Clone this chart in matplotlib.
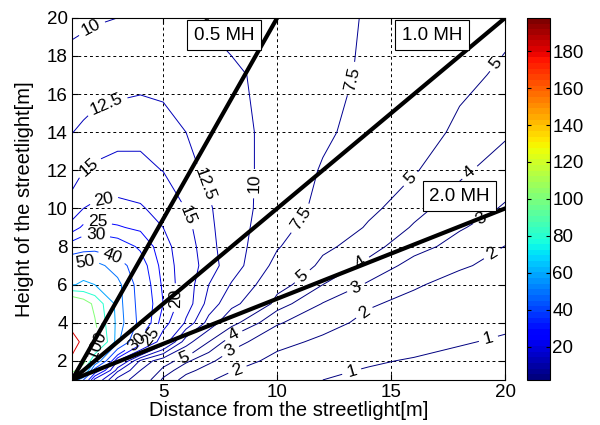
import numpy as np
import matplotlib
matplotlib.use('Agg')
import matplotlib.pyplot as plt
from matplotlib import cm, colors

plt.rcParams['font.family'] = ['Liberation Sans', 'DejaVu Sans']

# grid of the map: distance from the pole [m] and pole height [m]
dist_m = [1, 1.5, 2, 3, 4, 5, 6, 7, 8, 10, 12, 14, 16, 18, 20]
height_m = [1, 1.5, 2, 3, 4, 5, 6, 7, 8, 9, 10, 12, 14, 17, 20]

# values, one row per height
lux = [
    [60, 40, 18, 9.0, 6.0, 3.8, 2.6, 2.1, 1.65, 1.25, 1.0, 0.87, 0.76, 0.66, 0.58],
    [110, 80, 35, 13, 7.5, 4.6, 3.3, 2.6, 2.05, 1.45, 1.1, 0.96, 0.85, 0.74, 0.65],
    [172, 110, 60, 20, 9.5, 5.8, 4.2, 3.2, 2.5, 1.7, 1.2, 1.07, 0.95, 0.83, 0.72],
    [198, 170, 115, 52, 28, 17, 8.5, 5.0, 3.4, 2.3, 1.8, 1.45, 1.22, 1.05, 0.92],
    [165, 150, 102, 55, 37, 22, 14.5, 9.0, 5.4, 3.1, 2.35, 1.75, 1.5, 1.3, 1.12],
    [125, 112, 95, 54, 36, 25, 16.5, 11.5, 8.2, 4.5, 2.95, 2.1, 1.75, 1.5, 1.3],
    [59, 62, 60, 53, 35, 24, 16.5, 12.5, 9.8, 5.5, 4.0, 2.85, 2.1, 1.7, 1.5],
    [50, 53, 54, 45, 33, 23, 16.8, 13.6, 11.2, 6.7, 4.65, 3.75, 2.6, 2.1, 1.75],
    [33, 35, 35.5, 33.5, 29, 22, 16.5, 13.2, 11.2, 7.7, 5.3, 4.35, 3.4, 2.6, 1.98],
    [22.5, 26, 27, 25.5, 24, 20, 15.8, 13.0, 11.1, 8.4, 6.1, 4.85, 3.9, 3.1, 2.45],
    [16.0, 20.0, 21.0, 21.6, 20.6, 18.0, 14.9, 12.8, 11.0, 8.9, 6.8, 5.3, 4.3, 3.5, 2.9],
    [13.9, 14.9, 15.5, 16.1, 16.0, 14.9, 13.2, 12.0, 10.9, 9.1, 7.3, 6.1, 5.1, 4.2, 3.5],
    [12.45, 12.9, 13.3, 13.9, 14.0, 13.5, 12.5, 11.6, 10.7, 9.3, 7.9, 6.6, 5.6, 4.75, 4.15],
    [10.8, 11.0, 11.3, 11.4, 11.7, 11.6, 11.7, 11.0, 10.4, 9.2, 8.1, 7.2, 6.2, 5.3, 4.8],
    [9.5, 9.65, 9.8, 10.0, 10.6, 10.6, 10.2, 9.7, 9.2, 8.5, 7.9, 7.4, 6.6, 5.9, 5.3],
]

levels = [1, 2, 3, 4, 5, 7.5, 10, 12.5, 15, 20, 25, 30, 40, 50, 60, 80, 100, 180]

# mounting-height reference lines, drawn from the pole foot corner
mh_names = ['0.5 MH', '1.0 MH', '2.0 MH']
mh_x_end = [10, 20, 20]
mh_y_end = [20, 20, 10]

cmap = plt.get_cmap('jet', 64)
norm = colors.Normalize(vmin=2, vmax=198)

fig = plt.figure(figsize=(6, 4.25), dpi=100)
ax = fig.add_axes([0.12, 0.106, 0.722, 0.852])

cs = ax.contour(dist_m, height_m, lux, levels=levels, cmap=cmap, norm=norm,
                linewidths=0.7)

label_pos = [(1.9, 19.4), (6.6, 19.1), (8.95, 11.3),
             (2.6, 15.2), (6.9, 11.3),
             (1.8, 12.1), (6.0, 9.6),
             (2.4, 10.4), (5.5, 5.3),
             (2.1, 9.2), (4.4, 3.3),
             (2.0, 8.4), (3.85, 3.0),
             (2.8, 7.6), (1.6, 6.7), (2.1, 2.8),
             (13.3, 16.8), (11.0, 9.5),
             (19.6, 17.6), (15.9, 11.5), (11.2, 6.3), (5.9, 2.2),
             (18.5, 11.8), (13.7, 7.1), (8.1, 3.3),
             (19.0, 9.4), (13.4, 6.0), (7.9, 2.6),
             (19.5, 7.5), (13.9, 4.4), (8.3, 1.4),
             (19.3, 3.0), (13.3, 1.3)]
ax.clabel(cs, manual=label_pos, inline=True, fmt='%g', colors='k', fontsize=12.5)

for name, xe, ye in zip(mh_names, mh_x_end, mh_y_end):
    ax.plot([1, xe], [1, ye], color='k', linewidth=3, zorder=4)

box = dict(boxstyle='square,pad=0.35', facecolor='white', edgecolor='k', linewidth=0.8)
ax.text(7.67, 19.08, mh_names[0], ha='center', va='center', fontsize=13.5, bbox=box, zorder=5)
ax.text(16.8, 19.08, mh_names[1], ha='center', va='center', fontsize=13.5, bbox=box, zorder=5)
ax.text(18.0, 10.63, mh_names[2], ha='center', va='center', fontsize=13.5, bbox=box, zorder=5)

ax.set_xlim(1, 20)
ax.set_ylim(1, 20)
ax.set_xticks([5, 10, 15, 20])
ax.set_yticks(range(2, 21, 2))
ax.grid(True, color='k', linestyle=(0, (3, 3)), linewidth=0.7)
ax.tick_params(direction='in', top=True, right=True, length=4, labelsize=13.5, pad=3)
ax.set_xlabel('Distance from the streetlight[m]', fontsize=14.5, labelpad=0)
ax.set_ylabel('Height of the streetlight[m]', fontsize=14.5, labelpad=9)

cax = fig.add_axes([0.878, 0.106, 0.038, 0.852])
sm = cm.ScalarMappable(norm=norm, cmap=cmap)
cb = fig.colorbar(sm, cax=cax, ticks=range(20, 181, 20))
cb.ax.tick_params(direction='in', left=True, right=True, length=3, labelsize=13.5, pad=2)

fig.savefig('out.png', dpi=100, facecolor='white')
